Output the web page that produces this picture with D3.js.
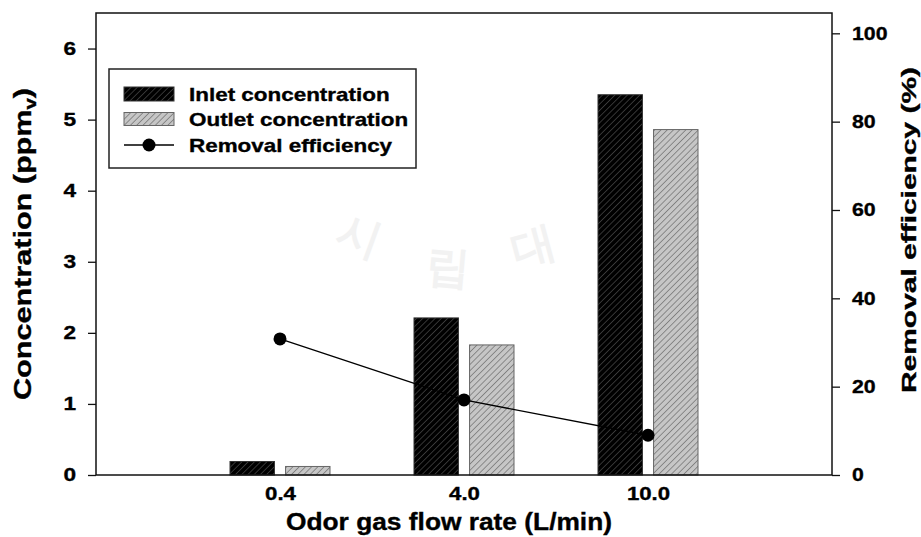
<!DOCTYPE html>
<html>
<head>
<meta charset="utf-8">
<script src="https://cdn.jsdelivr.net/npm/d3@7"></script>
<style>
  html, body { margin: 0; padding: 0; background: #fff; }
  svg { display: block; }
  text { font-family: "Liberation Sans", Arial, sans-serif; font-weight: bold; fill: #000; }
  .heavy { stroke: #000; stroke-width: 0.35px; }
</style>
</head>
<body>
<svg id="chart" width="921" height="537"></svg>
<script>
// Flow rates and measured concentrations / removal efficiency
const flowRates = ["0.4", "4.0", "10.0"];
const inletConc = [0.19, 2.21, 5.35];     // ppmv
const outletConc = [0.12, 1.83, 4.86];    // ppmv
const removalEff = [30.8, 17.0, 9.0];     // %
const concTicks = [0, 1, 2, 3, 4, 5, 6];
const effTicks = [0, 20, 40, 60, 80, 100];
const seriesNames = ["Inlet concentration", "Outlet concentration", "Removal efficiency"];

const svg = d3.select("#chart");
const plot = { left: 96, right: 832, top: 13, bottom: 475 };

// stretch text along its own reading direction
function stretch(sel, factor) {
  sel.each(function () {
    const w = this.getComputedTextLength();
    this.setAttribute("textLength", (w * factor).toFixed(1));
    this.setAttribute("lengthAdjust", "spacingAndGlyphs");
  });
}

// hatch patterns
const defs = svg.append("defs");
function hatch(id, bg, fg) {
  const p = defs.append("pattern")
    .attr("id", id).attr("patternUnits", "userSpaceOnUse")
    .attr("width", 4.4).attr("height", 4.4)
    .attr("patternTransform", "rotate(45)");
  p.append("rect").attr("width", 4.4).attr("height", 4.4).attr("fill", bg);
  p.append("line").attr("x1", 0).attr("y1", 0).attr("x2", 0).attr("y2", 4.4)
    .attr("stroke", fg).attr("stroke-width", 1.2);
}
hatch("hatchIn", "#000", "#555");
hatch("hatchOut", "#c6c6c6", "#606060");

// faint background watermark
const wm = svg.append("g")
  .style("font-family", "'Noto Sans CJK KR', sans-serif").style("font-size", "44px");
[["시", 355, 250, 20], ["립", 447, 282, 5], ["대", 537, 260, -15]].forEach(([t, x, y, r]) => {
  wm.append("text").attr("x", x).attr("y", y).attr("text-anchor", "middle")
    .attr("transform", `rotate(${r},${x},${y})`).style("fill", "#f2f2f2").text(t);
});

// scales
const x = d3.scalePoint().domain(flowRates).range([plot.left, plot.right]).padding(1);
const xSub = d3.scaleBand().domain(["inlet", "outlet"]).range([-50, 50]).paddingInner(0.2);
const yL = d3.scaleLinear().domain([0, 6.5]).range([plot.bottom, plot.top]);
const yR = d3.scaleLinear().domain([0, 104.6]).range([plot.bottom, plot.top]);

// bars
const barData = flowRates.map((f, i) => ({ f, inlet: inletConc[i], outlet: outletConc[i] }));
const bars = svg.append("g");
bars.selectAll("rect.in").data(barData).join("rect")
  .attr("x", d => x(d.f) + xSub("inlet"))
  .attr("width", xSub.bandwidth())
  .attr("y", d => yL(d.inlet))
  .attr("height", d => yL(0) - yL(d.inlet))
  .attr("fill", "url(#hatchIn)").attr("stroke", "#333").attr("stroke-width", 1);
bars.selectAll("rect.out").data(barData).join("rect")
  .attr("x", d => x(d.f) + xSub("outlet"))
  .attr("width", xSub.bandwidth())
  .attr("y", d => yL(d.outlet))
  .attr("height", d => yL(0) - yL(d.outlet))
  .attr("fill", "url(#hatchOut)").attr("stroke", "#666").attr("stroke-width", 1);

// removal efficiency line
const effData = flowRates.map((f, i) => ({ f, v: removalEff[i] }));
svg.append("path").datum(effData)
  .attr("d", d3.line().x(d => x(d.f)).y(d => yR(d.v)))
  .attr("fill", "none").attr("stroke", "#000").attr("stroke-width", 1.3);
svg.append("g").selectAll("circle").data(effData).join("circle")
  .attr("cx", d => x(d.f)).attr("cy", d => yR(d.v)).attr("r", 6.5).attr("fill", "#000");

// frame
svg.append("rect")
  .attr("x", plot.left).attr("y", plot.top)
  .attr("width", plot.right - plot.left).attr("height", plot.bottom - plot.top)
  .attr("fill", "none").attr("stroke", "#111").attr("stroke-width", 1.5);

// axes
const axL = svg.append("g").attr("transform", `translate(${plot.left},0)`)
  .call(d3.axisLeft(yL).tickValues(concTicks).tickSize(8).tickPadding(12).tickFormat(d3.format("d")));
const axR = svg.append("g").attr("transform", `translate(${plot.right},0)`)
  .call(d3.axisRight(yR).tickValues(effTicks).tickSize(8).tickPadding(12).tickFormat(d3.format("d")));
const axB = svg.append("g").attr("transform", `translate(0,${plot.bottom})`)
  .call(d3.axisBottom(x).tickSize(0).tickPadding(12));
[axL, axR, axB].forEach(a => {
  a.select(".domain").remove();
  a.selectAll("line").attr("stroke", "#111").attr("stroke-width", 1.3);
  a.selectAll("text").attr("font-family", null).attr("font-size", null)
    .attr("class", "heavy").style("font-size", "18.5px").style("font-weight", "bold");
});
stretch(axL.selectAll("text"), 1.22);
stretch(axR.selectAll("text"), 1.15);
stretch(axB.selectAll("text"), 1.2);

// axis titles
svg.append("text").attr("class", "heavy").attr("x", 449).attr("y", 530)
  .attr("text-anchor", "middle").style("font-size", "23px")
  .attr("textLength", 326).attr("lengthAdjust", "spacingAndGlyphs")
  .text("Odor gas flow rate (L/min)");

const lTitle = svg.append("text").attr("class", "heavy")
  .attr("transform", "translate(31,244) rotate(-90)")
  .attr("text-anchor", "middle").style("font-size", "24px")
  .attr("textLength", 312).attr("lengthAdjust", "spacingAndGlyphs");
lTitle.append("tspan").text("Concentration (ppm");
lTitle.append("tspan").attr("dy", 5).style("font-size", "16px").text("v");
lTitle.append("tspan").attr("dy", -5).text(")");

svg.append("text").attr("class", "heavy")
  .attr("transform", "translate(916,230) rotate(-90)")
  .attr("text-anchor", "middle").style("font-size", "20px")
  .attr("textLength", 326).attr("lengthAdjust", "spacingAndGlyphs")
  .text("Removal efficiency (%)");

// legend
const lg = svg.append("g");
lg.append("rect").attr("x", 109).attr("y", 69).attr("width", 307).attr("height", 99)
  .attr("fill", "#fff").attr("stroke", "#222").attr("stroke-width", 1.5);
const rows = [94, 119.5, 145];
lg.append("rect").attr("x", 124).attr("y", rows[0] - 7).attr("width", 50).attr("height", 14)
  .attr("fill", "url(#hatchIn)").attr("stroke", "#333");
lg.append("rect").attr("x", 124).attr("y", rows[1] - 7).attr("width", 50).attr("height", 13)
  .attr("fill", "url(#hatchOut)").attr("stroke", "#666");
lg.append("line").attr("x1", 124).attr("x2", 174).attr("y1", rows[2]).attr("y2", rows[2])
  .attr("stroke", "#000").attr("stroke-width", 1.3);
lg.append("circle").attr("cx", 149).attr("cy", rows[2]).attr("r", 6.5).attr("fill", "#000");
const lgText = lg.selectAll("text.lab").data(seriesNames).join("text")
  .attr("class", "heavy")
  .attr("x", 189).attr("y", (d, i) => rows[i] + 6.8)
  .style("font-size", "19px").text(d => d);
stretch(lgText, 1.18);
</script>
</body>
</html>
